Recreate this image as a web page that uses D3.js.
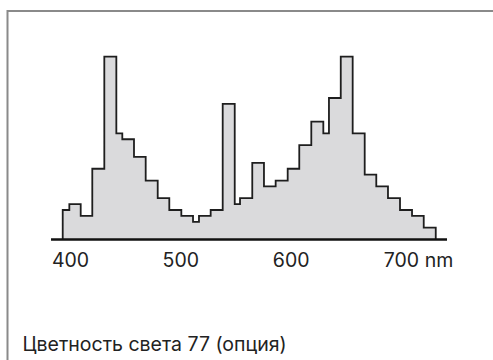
<!DOCTYPE html>
<html>
<head>
<meta charset="utf-8">
<script src="https://cdn.jsdelivr.net/npm/d3@7"></script>
<style>
  html, body { margin: 0; padding: 0; background: #fff; }
  svg { display: block; }
  text { font-family: Inter, "Open Sans", sans-serif; fill: #222; }
</style>
</head>
<body>
<svg id="chart" width="493" height="360"></svg>
<script>
// Bin edges (nm) and relative intensities
const binEdges = [393.4, 399.4, 409.7, 420.2, 431.1, 442.0, 447.4, 458.0, 468.6, 479.5,
                  490.0, 500.9, 511.5, 516.9, 527.5, 538.4, 549.3, 554.1, 565.2, 575.8,
                  586.4, 597.3, 607.8, 618.7, 629.6, 634.7, 645.4, 656.2, 667.1, 677.6,
                  688.2, 699.1, 710.0, 720.6, 731.5];
const intensities = [5, 6, 4, 12, 31, 18, 17, 14, 10, 7,
                     5, 4, 3, 4, 5, 23, 6, 7, 13, 9,
                     10, 12, 16, 20, 18, 24, 31, 18, 11, 9,
                     7, 5, 4, 2];
const tickValues = [400, 500, 600, 700];
const tickLabels = ["400", "500", "600", "700"];
const unitLabel = "nm";
const baselineRange = [382.8, 741.7];
const caption = "Цветность света 77 (опция)";

const svg = d3.select("#chart");

// frame
svg.append("rect")
  .attr("x", 7.5).attr("y", 11)
  .attr("width", 600).attr("height", 500)
  .attr("fill", "none")
  .attr("stroke", "#8a8a8a")
  .attr("stroke-width", 2);

const x = d3.scaleLinear().domain([400, 700]).range([70, 401]);
const y = d3.scaleLinear().domain([0, 31]).range([239.5, 56.7]);

const pts = [[binEdges[0], 0]];
intensities.forEach((v, i) => {
  pts.push([binEdges[i], v]);
  pts.push([binEdges[i + 1], v]);
});
pts.push([binEdges[binEdges.length - 1], 0]);

const line = d3.line().x(d => x(d[0])).y(d => y(d[1]));

svg.append("path")
  .attr("d", line(pts))
  .attr("fill", "#dadadc")
  .attr("stroke", "#1e1e1e")
  .attr("stroke-width", 1.8)
  .attr("stroke-linejoin", "miter");

// baseline
svg.append("line")
  .attr("x1", x(baselineRange[0])).attr("x2", x(baselineRange[1]))
  .attr("y1", y(0)).attr("y2", y(0))
  .attr("stroke", "#111")
  .attr("stroke-width", 2.4);

// axis labels
const axis = d3.axisBottom(x)
  .tickValues(tickValues)
  .tickSize(0)
  .tickPadding(0)
  .tickFormat((d, i) => tickLabels[i]);

const gAxis = svg.append("g")
  .attr("transform", `translate(0, ${y(0)})`)
  .call(axis);
gAxis.select(".domain").remove();
gAxis.selectAll("text")
  .attr("y", 27)
  .attr("dy", 0)
  .attr("font-size", 19.5)
  .attr("font-family", "Inter, 'Open Sans', sans-serif")
  .attr("fill", "#222");

// unit after last tick
const lastTick = gAxis.selectAll(".tick").filter((d, i) => i === tickValues.length - 1);
const lastText = lastTick.select("text");
const w = lastText.node().getComputedTextLength();
lastText.attr("text-anchor", "start").attr("x", -w / 2)
  .append("tspan").text("\u00a0" + unitLabel);

svg.append("text")
  .attr("x", 22.5).attr("y", 351)
  .attr("font-size", 19.5)
  .text(caption);
</script>
</body>
</html>
